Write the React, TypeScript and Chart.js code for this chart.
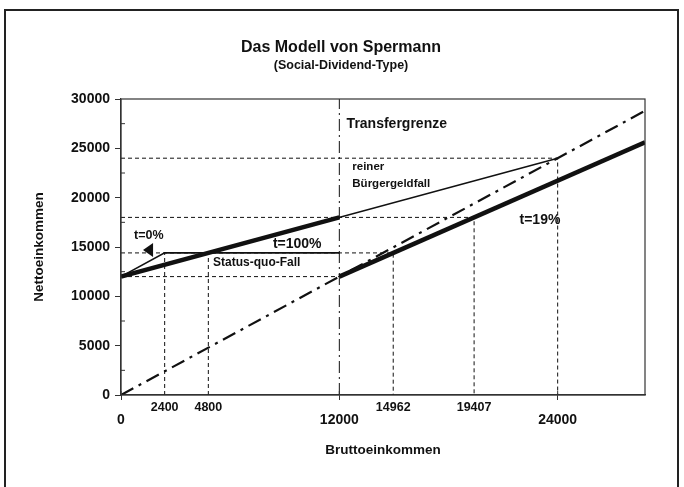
import React, { useEffect, useRef } from "react";
import { Chart, registerables } from "chart.js";

Chart.register(...registerables);

// ---- data ----
const xTickValues = [0, 2400, 4800, 12000, 14962, 19407, 24000];
const xTickUpper = [2400, 4800, 14962, 19407];
const xTickLower = [0, 12000, 24000];
const xMax = 28800;
const yMax = 30000;
const yStep = 5000;

const diagonal45 = [
  { x: 0, y: 0 },
  { x: 28800, y: 28800 },
];
const reinerBuergergeld = [
  { x: 0, y: 12000 },
  { x: 24000, y: 24000 },
];
const thickT50 = [
  { x: 0, y: 12000 },
  { x: 12000, y: 18000 },
];
const thickT19 = [
  { x: 12000, y: 12000 },
  { x: 28800, y: 25608 },
];
const statusQuo = [
  { x: 0, y: 12000 },
  { x: 2400, y: 14400 },
  { x: 12000, y: 14400 },
];
const guide24000 = [
  { x: 0, y: 24000 },
  { x: 24000, y: 24000 },
  { x: 24000, y: 0 },
];
const guide18000 = [
  { x: 0, y: 18000 },
  { x: 19407, y: 18000 },
  { x: 19407, y: 0 },
];
const guide14400 = [
  { x: 0, y: 14400 },
  { x: 14962, y: 14400 },
  { x: 14962, y: 0 },
];
const guide12000 = [
  { x: 0, y: 12000 },
  { x: 12000, y: 12000 },
];
const guide2400 = [
  { x: 2400, y: 0 },
  { x: 2400, y: 14400 },
];
const guide4800 = [
  { x: 4800, y: 0 },
  { x: 4800, y: 14400 },
];
const transfergrenze = [
  { x: 12000, y: 0 },
  { x: 12000, y: 30000 },
];

const annotations = [
  { text: "Transfergrenze", x: 12400, y: 27450, size: 14, bold: true },
  { text: "reiner", x: 12713, y: 23107, size: 11.5, bold: true },
  { text: "Bürgergeldfall", x: 12713, y: 21384, size: 11.5, bold: true },
  { text: "t=19%", x: 21904, y: 17736, size: 14, bold: true },
  { text: "t=100%", x: 8350, y: 15250, size: 14, bold: true },
  { text: "Status-quo-Fall", x: 5063, y: 13378, size: 12, bold: true },
  { text: "t=0%", x: 715, y: 16115, size: 12.5, bold: true },
];

const FONT = "'Liberation Sans', Arial, sans-serif";
const INK = "#111";

const drawPlugin = {
  id: "spermannDecor",
  beforeDraw(chart: any) {
    const ctx = chart.ctx;
    ctx.save();
    ctx.fillStyle = "#fff";
    ctx.fillRect(0, 0, chart.width, chart.height);
    ctx.strokeStyle = "#222";
    ctx.lineWidth = 2;
    ctx.strokeRect(5, 10, 673, 490);
    ctx.restore();
  },
  afterDraw(chart: any) {
    const ctx = chart.ctx;
    const xs = chart.scales.x;
    const ys = chart.scales.y;
    const a = chart.chartArea;
    ctx.save();
    // plot box
    ctx.strokeStyle = "#333";
    ctx.lineWidth = 1.2;
    ctx.strokeRect(a.left, a.top, a.right - a.left, a.bottom - a.top);

    // minor ticks on y axis (inside)
    ctx.lineWidth = 1;
    for (let v = yStep / 2; v < yMax; v += yStep) {
      const py = ys.getPixelForValue(v);
      ctx.beginPath();
      ctx.moveTo(a.left, py);
      ctx.lineTo(a.left + 4, py);
      ctx.stroke();
    }
    // major x ticks reaching inside
    for (const v of xTickLower) {
      const px = xs.getPixelForValue(v);
      ctx.beginPath();
      ctx.moveTo(px, a.bottom - 4);
      ctx.lineTo(px, a.bottom);
      ctx.stroke();
    }

    // x tick labels (two rows)
    ctx.fillStyle = INK;
    ctx.textAlign = "center";
    ctx.textBaseline = "middle";
    ctx.font = `bold 12.5px ${FONT}`;
    for (const v of xTickUpper) {
      ctx.fillText(String(v), xs.getPixelForValue(v), a.bottom + 13);
    }
    ctx.font = `bold 14px ${FONT}`;
    for (const v of xTickLower) {
      ctx.fillText(String(v), xs.getPixelForValue(v), a.bottom + 25);
    }

    // titles
    ctx.font = `bold 16px ${FONT}`;
    ctx.fillText("Das Modell von Spermann", 341, 48);
    ctx.font = `bold 12.5px ${FONT}`;
    ctx.fillText("(Social-Dividend-Type)", 341, 66);

    // axis titles
    ctx.font = `bold 13.5px ${FONT}`;
    ctx.fillText("Bruttoeinkommen", (a.left + a.right) / 2, 450);
    ctx.save();
    ctx.translate(39, 247);
    ctx.rotate(-Math.PI / 2);
    ctx.fillText("Nettoeinkommen", 0, 0);
    ctx.restore();

    // annotations
    ctx.textAlign = "left";
    for (const t of annotations) {
      ctx.font = `${t.bold ? "bold " : ""}${t.size}px ${FONT}`;
      ctx.fillText(t.text, xs.getPixelForValue(t.x), ys.getPixelForValue(t.y));
    }

    // arrow for t=0%
    const tip = { x: xs.getPixelForValue(1211), y: ys.getPixelForValue(14696) };
    const b1 = { x: xs.getPixelForValue(1761), y: ys.getPixelForValue(15405) };
    const b2 = { x: xs.getPixelForValue(1761), y: ys.getPixelForValue(13986) };
    ctx.beginPath();
    ctx.moveTo(tip.x, tip.y);
    ctx.lineTo(b1.x, b1.y);
    ctx.lineTo(b2.x, b2.y);
    ctx.closePath();
    ctx.fill();
    ctx.restore();
  },
};

function lineDs(data: any[], width: number, dash: number[] = [], order = 0) {
  return {
    data,
    borderColor: INK,
    backgroundColor: INK,
    borderWidth: width,
    borderDash: dash,
    showLine: true,
    pointRadius: 0,
    fill: false,
    tension: 0,
    order,
  };
}

export default function App() {
  const ref = useRef<HTMLCanvasElement | null>(null);
  useEffect(() => {
    if (!ref.current) return;
    const dashGuide = [4, 3];
    const chart = new Chart(ref.current, {
      type: "scatter",
      data: {
        datasets: [
          lineDs(thickT50, 4.5, [], 0),
          lineDs(thickT19, 4.5, [], 0),
          lineDs(reinerBuergergeld, 1.6, [], 1),
          lineDs(statusQuo, 1.6, [], 1),
          lineDs(diagonal45, 2.2, [14, 6, 3, 6], 2),
          lineDs(transfergrenze, 1, [12, 4, 2, 4], 3),
          lineDs(guide24000, 1, dashGuide, 4),
          lineDs(guide18000, 1, dashGuide, 4),
          lineDs(guide14400, 1, dashGuide, 4),
          lineDs(guide12000, 1, dashGuide, 4),
          lineDs(guide2400, 1, dashGuide, 4),
          lineDs(guide4800, 1, dashGuide, 4),
        ] as any,
      },
      options: {
        animation: false,
        responsive: false,
        layout: { padding: { top: 99, right: 39, left: 0, bottom: 0 } },
        plugins: {
          legend: { display: false },
          tooltip: { enabled: false },
          title: { display: false },
        },
        scales: {
          x: {
            type: "linear",
            min: 0,
            max: xMax,
            afterBuildTicks: (s: any) => {
              s.ticks = xTickValues.map((v) => ({ value: v }));
            },
            ticks: { display: false },
            grid: {
              drawOnChartArea: false,
              tickLength: 5,
              color: (c: any) =>
                c.tick && xTickLower.includes(c.tick.value) ? "#333" : "rgba(0,0,0,0)",
            },
            border: { color: "#333", width: 1.2 },
            afterFit: (s: any) => {
              s.height = 92;
            },
          },
          y: {
            type: "linear",
            min: 0,
            max: yMax,
            ticks: {
              stepSize: yStep,
              color: INK,
              padding: 5,
              font: { family: FONT, size: 14, weight: "bold" },
              callback: (v: any) => String(v),
            },
            grid: { drawOnChartArea: false, tickLength: 6, color: "#333" },
            border: { color: "#333", width: 1.2 },
            afterFit: (s: any) => {
              s.width = 121;
            },
          },
        },
      } as any,
      plugins: [drawPlugin],
    });
    return () => chart.destroy();
  }, []);
  return (
    <div style={{ position: "fixed", left: 0, top: 0, width: 684, height: 487, background: "#fff" }}>
      <canvas ref={ref} width={684} height={487} style={{ display: "block" }} />
    </div>
  );
}
